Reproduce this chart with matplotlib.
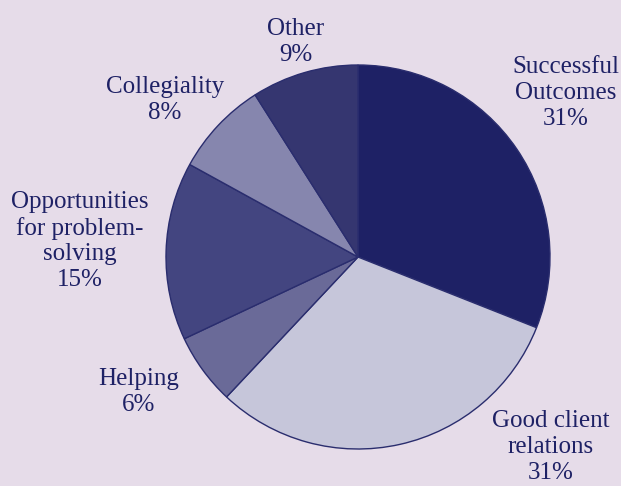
import matplotlib
matplotlib.use("Agg")
import matplotlib.pyplot as plt

# slice data, clockwise from 12 o'clock
categories = ["Successful\nOutcomes", "Good client\nrelations", "Helping",
              "Opportunities\nfor problem-\nsolving", "Collegiality", "Other"]
shares = [31, 31, 6, 15, 8, 9]
colors = ["#1e2165", "#c6c6da", "#6a6a98", "#434580", "#8686ae", "#353670"]

# label centres in pixel coords (x, y from top)
label_pos = [(566, 93), (551, 447), (139, 392), (80, 241), (165, 100), (296, 42)]

W, H = 621, 486
bg = "#e6dce9"
ink = "#1e2165"

fig = plt.figure(figsize=(W / 100, H / 100), dpi=100, facecolor=bg)
ax = fig.add_axes([0, 0, 1, 1])
ax.set_facecolor(bg)

ax.pie(
    shares,
    colors=colors,
    startangle=90,
    counterclock=False,
    center=(358, H - 257),
    radius=192,
    wedgeprops={"edgecolor": "#2a2d6e", "linewidth": 1.0},
    frame=True,
)
ax.set_xlim(0, W)
ax.set_ylim(0, H)
ax.set_aspect("equal")
ax.axis("off")

for name, pct, (x, y) in zip(categories, shares, label_pos):
    ax.text(
        x, H - y,
        f"{name}\n{pct}%",
        ha="center",
        va="center",
        fontsize=18,
        family="Liberation Serif",
        color=ink,
        linespacing=1.22,
    )

fig.savefig("out.png", dpi=100, facecolor=bg)
